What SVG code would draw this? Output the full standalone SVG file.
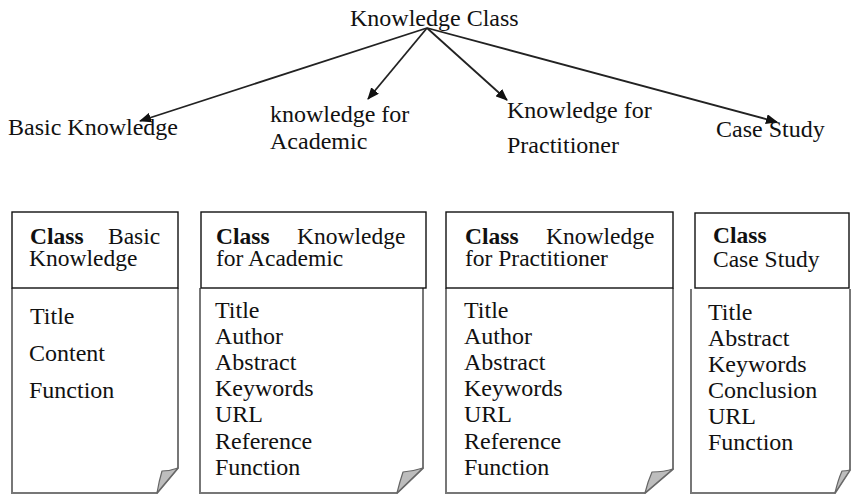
<svg xmlns="http://www.w3.org/2000/svg" width="851" height="496" viewBox="0 0 851 496">
<style>
text{font-family:'Liberation Serif','Times New Roman',Tinos,'DejaVu Serif','Noto Serif',serif;fill:#111;}
.lbl{font-size:24px;}
.hd{font-size:23.5px;}
.it{font-size:24px;}
.b{font-weight:bold;}
.hdr{fill:#fff;stroke:#111;stroke-width:1.4;}
.body{fill:#fff;stroke:#777;stroke-width:2;stroke-linejoin:miter;}
.flap{fill:#bdbdbd;stroke:#666;stroke-width:1.2;stroke-linejoin:round;}
.conn{stroke:#222;stroke-width:1.8;fill:none;marker-end:url(#ah);}
</style>
<defs>
<marker id="ah" viewBox="0 0 12 10" refX="11" refY="5" markerWidth="12" markerHeight="10" markerUnits="userSpaceOnUse" orient="auto">
<path d="M0,0 L12,5 L0,10 Z" fill="#111"/>
</marker>
</defs>
<rect width="851" height="496" fill="#fff"/>

<g id="root">
<text class="lbl" x="350" y="26" font-family="Liberation Serif, serif">Knowledge Class</text>
</g>
<g id="lbl-basic"><text class="lbl" x="8" y="135">Basic Knowledge</text></g>
<g id="lbl-academic"><text class="lbl" x="270" y="122">knowledge for</text><text class="lbl" x="270" y="149">Academic</text></g>
<g id="lbl-pract"><text class="lbl" x="507" y="118">Knowledge for</text><text class="lbl" x="507" y="153">Practitioner</text></g>
<g id="lbl-case"><text class="lbl" x="716" y="137">Case Study</text></g>

<g id="connectors">
<line class="conn" x1="427" y1="28" x2="140" y2="121"/>
<line class="conn" x1="427" y1="28" x2="368" y2="99"/>
<line class="conn" x1="427" y1="28" x2="507" y2="100"/>
<line class="conn" x1="427" y1="28" x2="777" y2="122"/>
</g>

<g id="class-basic">
<path class="body" d="M12,288 V493 H157 L178,468 V288"/>
<path class="flap" d="M157,493 Q159,481 162,471 Q170,471 178,468 Z"/>
<rect class="hdr" x="12" y="212" width="166" height="76"/>
<text class="hd b" x="30" y="244">Class</text>
<text class="hd" x="108" y="244">Basic</text>
<text class="hd" x="29" y="266">Knowledge</text>
<text class="it" x="30" y="324">Title</text>
<text class="it" x="29" y="361">Content</text>
<text class="it" x="29" y="398">Function</text>
</g>

<g id="class-academic">
<path class="body" d="M200,288 V493 H397 L423,468 V288"/>
<path class="flap" d="M397,493 Q400,481 403,472 Q414,471 423,468 Z"/>
<rect class="hdr" x="201" y="212" width="225" height="76"/>
<text class="hd b" x="216" y="244">Class</text>
<text class="hd" x="297" y="244">Knowledge</text>
<text class="hd" x="216" y="266">for Academic</text>
<text class="it" x="215" y="318">Title</text>
<text class="it" x="215" y="344">Author</text>
<text class="it" x="215" y="370">Abstract</text>
<text class="it" x="215" y="396">Keywords</text>
<text class="it" x="215" y="422">URL</text>
<text class="it" x="215" y="449">Reference</text>
<text class="it" x="215" y="475">Function</text>
</g>

<g id="class-practitioner">
<path class="body" d="M446,288 V493 H645 L673,469 V288"/>
<path class="flap" d="M645,493 Q648,481 652,472 Q664,472 673,469 Z"/>
<rect class="hdr" x="446" y="212" width="227" height="76"/>
<text class="hd b" x="465" y="244">Class</text>
<text class="hd" x="546" y="244">Knowledge</text>
<text class="hd" x="465" y="266">for Practitioner</text>
<text class="it" x="464" y="318">Title</text>
<text class="it" x="464" y="344">Author</text>
<text class="it" x="464" y="370">Abstract</text>
<text class="it" x="464" y="396">Keywords</text>
<text class="it" x="464" y="422">URL</text>
<text class="it" x="464" y="449">Reference</text>
<text class="it" x="464" y="475">Function</text>
</g>

<g id="class-case">
<path class="body" d="M691,289 V493 H835 L850,470 V289"/>
<path class="flap" d="M835,493 Q838,480 842,471 Q846,471 850,470 Z"/>
<rect class="hdr" x="695" y="213" width="154" height="75"/>
<text class="hd b" x="713" y="243">Class</text>
<text class="hd" x="713" y="267">Case Study</text>
<text class="it" x="708" y="320">Title</text>
<text class="it" x="708" y="346">Abstract</text>
<text class="it" x="708" y="372">Keywords</text>
<text class="it" x="708" y="398">Conclusion</text>
<text class="it" x="708" y="424">URL</text>
<text class="it" x="708" y="450">Function</text>
</g>
</svg>
